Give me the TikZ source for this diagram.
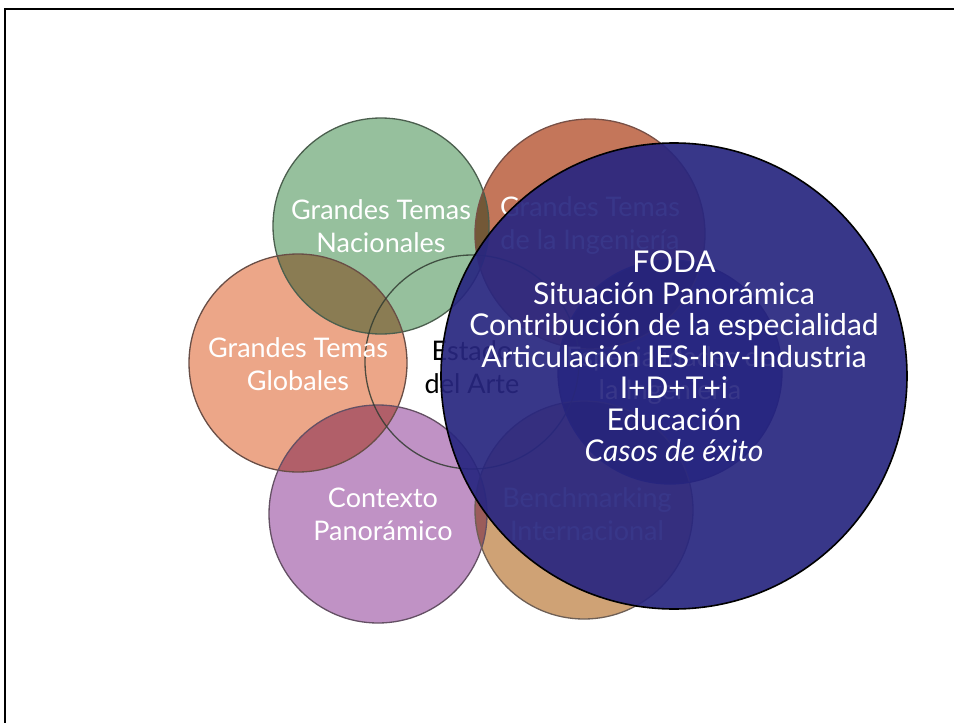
\documentclass[tikz,border=0pt]{standalone}
\usepackage{fontspec}
\setmainfont{Lato}
\begin{document}
\begin{tikzpicture}[x=1pt,y=-1pt,
  bubble/.style={circle, inner sep=0pt, minimum size=#1, blend mode=multiply},
  ring/.style={circle, inner sep=0pt, minimum size=#1, line width=1.3pt},
  lbl/.style={align=center, text=white, font=\fontsize{27}{33}\selectfont},
  biglbl/.style={align=center, text=white, font=\fontsize{30}{31.5}\selectfont}]
\useasboundingbox (0,0) rectangle (954,723);
\fill[white] (0,0) rectangle (954,723);
\coordinate (fbl) at (5,723);
\coordinate (ftl) at (5,9);
\coordinate (ftr) at (954,9);
\draw[line width=2.5pt] (fbl) -- (ftl) -- (ftr);
% coloured circles (multiply blend)
\node[bubble=216pt, fill={rgb,255:red,150;green,192;blue,157}] (nac) at (381,226) {};
\node[bubble=230pt, fill={rgb,255:red,196;green,118;blue,90}] (ing) at (590,234) {};
\node[bubble=218pt, fill={rgb,255:red,236;green,166;blue,136}] (glo) at (298,363) {};
\node[bubble=218pt, fill={rgb,255:red,192;green,146;blue,197}] (ctx) at (378,514) {};
\node[bubble=218pt, fill={rgb,255:red,207;green,162;blue,117}] (ben) at (584,510) {};
\node[bubble=224pt, fill={rgb,255:red,40;green,55;blue,150}] (esp) at (670,372) {};
% outlines
\node[ring=216pt, draw={rgb,255:red,75;green,95;blue,78}] at (nac) {};
\node[ring=230pt, draw={rgb,255:red,120;green,80;blue,70}] at (ing) {};
\node[ring=218pt, draw={rgb,255:red,105;green,78;blue,70}] at (glo) {};
\node[ring=218pt, draw={rgb,255:red,100;green,80;blue,100}] at (ctx) {};
\node[ring=218pt, draw={rgb,255:red,110;green,95;blue,85}] at (ben) {};
\node[ring=224pt, draw={rgb,255:red,30;green,35;blue,110}] at (esp) {};
\node[ring=214pt, draw={rgb,255:red,50;green,60;blue,50}, draw opacity=0.85] (edo) at (472,362) {};
% labels of small circles
\node[lbl] at (nac) {Grandes Temas\\Nacionales};
\node[lbl] at ([yshift=8pt]ing) {Grandes Temas\\de la Ingeniería};
\node[lbl] at ([yshift=-1.5pt]glo) {Grandes Temas\\Globales};
\node[lbl] at ([xshift=5pt]ctx) {Contexto\\Panorámico};
\node[lbl] at ([xshift=3pt,yshift=-4pt]ben) {Benchmarking\\Internacional};
\node[lbl] at ([yshift=-4pt]esp) {Especialidades de\\la Ingeniería};
\node[lbl, text=black] at ([yshift=-5pt]edo) {Estado\\del Arte};
% big circle
\node[circle, inner sep=0pt, minimum size=466pt, fill={rgb,255:red,40;green,38;blue,128}, fill opacity=0.92, draw=black, line width=1.6pt] (foda) at (674,376) {};
\node[biglbl] at ([yshift=19.5pt]foda) {FODA\\Situación Panorámica\\Contribución de la especialidad\\Articulación IES-Inv-Industria\\I+D+T+i\\Educación\\\textit{Casos de éxito}};
\end{tikzpicture}
\end{document}
